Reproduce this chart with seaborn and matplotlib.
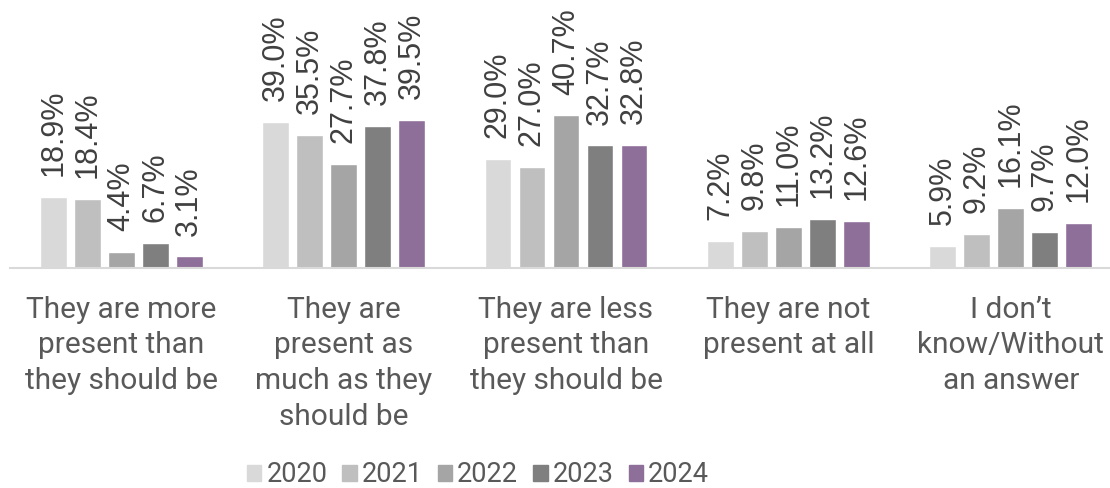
import pandas as pd
import seaborn as sns
import matplotlib.pyplot as plt

# Data
categories = [
    "They are more\npresent than\nthey should be",
    "They are\npresent as\nmuch as they\nshould be",
    "They are less\npresent than\nthey should be",
    "They are not\npresent at all",
    "I don\u2019t\nknow/Without\nan answer",
]
years = ["2020", "2021", "2022", "2023", "2024"]
values = {
    "2020": [18.9, 39.0, 29.0, 7.2, 5.9],
    "2021": [18.4, 35.5, 27.0, 9.8, 9.2],
    "2022": [4.4, 27.7, 40.7, 11.0, 16.1],
    "2023": [6.7, 37.8, 32.7, 13.2, 9.7],
    "2024": [3.1, 39.5, 32.8, 12.6, 12.0],
}
colors = ["#D9D9D9", "#BFBFBF", "#A5A5A5", "#7F7F7F", "#8E6F9A"]

rows = []
for y in years:
    for cat, v in zip(categories, values[y]):
        rows.append({"category": cat, "year": y, "value": v})
df = pd.DataFrame(rows)

sns.set_theme(style="white")
plt.rcParams["font.family"] = ["Liberation Sans", "DejaVu Sans"]

fig = plt.figure(figsize=(11.1, 4.88), dpi=100)
ax = fig.add_axes([10 / 1110, 220 / 488, 1112 / 1110, 268 / 488])

sns.barplot(data=df, x="category", y="value", hue="year", order=categories,
            hue_order=years, palette=colors, width=0.765, gap=0.21,
            saturation=1, ax=ax, legend=False)

for container in ax.containers:
    ax.bar_label(container, labels=[f"{v:.1f}%" for v in container.datavalues],
                 rotation=90, padding=15, fontsize=22, color="#404040")

ax.set_xlim(-0.5, 4.5)
ax.set_ylim(0, 71.5)
ax.set_xlabel("")
ax.set_ylabel("")
ax.set_yticks([])
ax.tick_params(axis="x", length=0, pad=20)
for lbl in ax.get_xticklabels():
    lbl.set_fontfamily(["Roboto", "DejaVu Sans"])
    lbl.set_fontsize(21.5)
    lbl.set_color("#595959")
    lbl.set_linespacing(1.35)
    lbl.set_verticalalignment("top")

for side in ["top", "right", "left"]:
    ax.spines[side].set_visible(False)
ax.spines["bottom"].set_color("#D9D9D9")
ax.spines["bottom"].set_linewidth(1.5)

handles = [plt.Rectangle((0, 0), 1, 1, color=c) for c in colors]
fig.legend(handles, years, loc="center", bbox_to_anchor=(478 / 1110, 1 - 475 / 488),
           ncol=5, frameon=False, handlelength=0.53, handleheight=0.53,
           handletextpad=0.19, columnspacing=0.55, borderpad=0.1,
           prop={"family": ["Roboto", "DejaVu Sans"], "size": 19.5},
           labelcolor="#595959")

fig.savefig("out.png", dpi=100)
